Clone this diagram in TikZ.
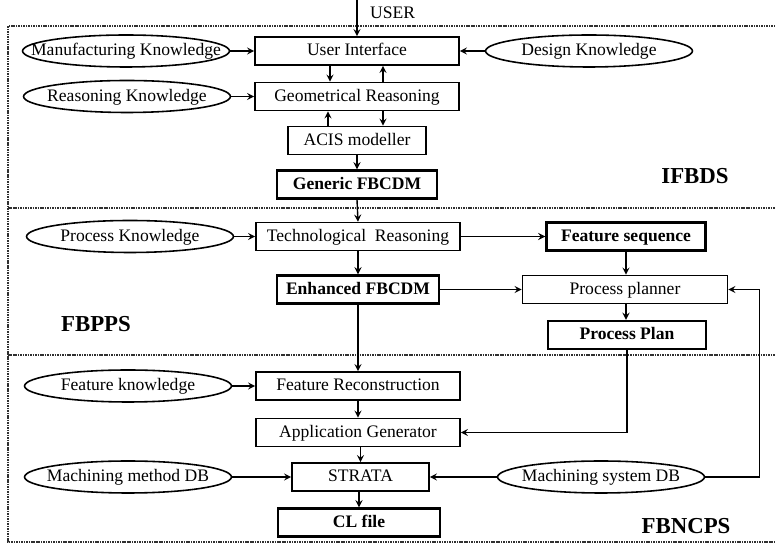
\documentclass[tikz,border=0pt]{standalone}
\usepackage{fontspec}
\setmainfont{Liberation Serif}
\usetikzlibrary{shapes.geometric}

\tikzset{
    box/.style={draw, line width=0.9pt, minimum height=0.56cm, inner sep=1pt,
        text height=1.55ex, text depth=0.35ex, font=\fontsize{10}{12}\selectfont},
    boldbox/.style={box, line width=1.4pt, font=\fontsize{10}{12}\selectfont\bfseries},
    know/.style={draw, ellipse, line width=0.9pt, minimum width=4.14cm, minimum height=0.64cm,
        inner xsep=-0.45cm, inner ysep=-0.1cm, text height=1.55ex, text depth=0.35ex,
        font=\fontsize{10}{12}\selectfont},
    flow/.style={-stealth, line width=0.8pt},
    part/.style={font=\fontsize{13}{15}\selectfont\bfseries},
}

\begin{document}
\begin{tikzpicture}[x=0.02cm, y=-0.02cm]
    \definecolor{frame_gray}{HTML}{303030}
    \useasboundingbox (0,0) rectangle (775,546);
    %\draw[help lines, step=50] (0,0) grid (775,546);

    % system frames
    \draw[frame_gray, line width=0.9pt, dash pattern=on 0.9pt off 0.5pt] (780,26) -- (8,26) -- (8,542) -- (780,542);
    \draw[frame_gray, line width=0.9pt, dash pattern=on 0.9pt off 0.5pt] (8,208) -- (780,208);
    \draw[frame_gray, line width=0.9pt, dash pattern=on 0.9pt off 0.5pt] (8,355) -- (780,355);

    \node[part] (ifbds) at (695,176) {IFBDS};
    \node[part] (fbpps) at (96,324) {FBPPS};
    \node[part] (fbncps) at (686,526) {FBNCPS};

    % design part
    \coordinate (user) at (357,0);
    \node[anchor=west, font=\fontsize{10}{12}\selectfont] (usertext) at (364,13) {USER};
    \node[box, minimum width=4.08cm] (ui) at (357,51) {User Interface};
    \node[box, minimum width=4.08cm] (geo) at (357,96.5) {Geometrical Reasoning};
    \node[box, minimum width=2.76cm] (acis) at (357,140.5) {ACIS modeller};
    \node[boldbox, minimum width=3.20cm] (generic) at (357,184.5) {Generic FBCDM};

    \node[know] (mfg) at (126,51) {Manufacturing Knowledge};
    \node[know] (design) at (589,51) {Design Knowledge};
    \node[know] (rsn) at (127,96.5) {Reasoning Knowledge};

    % planning part
    \node[box, minimum width=4.08cm] (tech) at (358,236.5) {Technological\ \ Reasoning};
    \node[boldbox, minimum width=3.18cm] (fseq) at (626,236.5) {Feature sequence};
    \node[boldbox, minimum width=3.24cm] (enh) at (358,289.5) {Enhanced FBCDM};
    \node[box, minimum width=4.10cm] (planner) at (625,289.5) {Process planner};
    \node[boldbox, minimum width=3.16cm] (plan) at (627,335) {Process Plan};

    \node[know] (proc) at (130,236.5) {Process Knowledge};

    % NC part
    \node[box, minimum width=4.08cm] (recon) at (358,386) {Feature Reconstruction};
    \node[box, minimum width=4.08cm] (appgen) at (358,432.5) {Application Generator};
    \node[box, minimum width=2.74cm] (strata) at (360.5,477) {STRATA};
    \node[boldbox, minimum width=3.24cm] (clfile) at (359,522.5) {CL file};

    \node[know] (feat) at (128,386) {Feature knowledge};
    \node[know] (mmeth) at (128,477) {Machining method DB};
    \node[know] (msys) at (601,477) {Machining system DB};

    % arrows
    \draw[flow] (user) -- (ui.north);
    \draw[flow] ([xshift=-0.54cm]ui.south) -- ([xshift=-0.54cm]geo.north);
    \draw[flow] ([xshift=0.52cm]geo.north) -- ([xshift=0.52cm]ui.south);
    \draw[flow] ([xshift=-0.58cm]acis.north) -- ([xshift=-0.58cm]geo.south);
    \draw[flow] ([xshift=0.52cm]geo.south) -- ([xshift=0.52cm]acis.north);
    \draw[flow] (acis) -- (generic);
    \draw[flow] (mfg.east) -- (mfg.east -| ui.west);
    \draw[flow] (design.west) -- (design.west -| ui.east);
    \draw[flow] (rsn.east) -- (rsn.east -| geo.west);

    \draw[flow] (generic.south) -- (tech.north);
    \draw[flow] (proc.east) -- (proc.east -| tech.west);
    \draw[flow] (tech.east) -- (tech.east -| fseq.west);
    \draw[flow] (tech) -- (enh);
    \draw[flow] (enh.east) -- (enh.east -| planner.west);
    \draw[flow] (fseq.south) -- (fseq.south |- planner.north);
    \draw[flow] (fseq.south |- planner.south) -- (fseq.south |- plan.north);
    \draw[flow] (plan.south) |- (appgen.east);

    \draw[flow] (enh.south) -- (recon.north);
    \draw[flow] (feat.east) -- (feat.east -| recon.west);
    \draw[flow] (recon) -- (appgen);
    \draw[flow] (appgen.south -| strata.north) -- (strata.north);
    \draw[flow] (mmeth.east) -- (mmeth.east -| strata.west);
    \draw[flow] (msys.west) -- (msys.west -| strata.east);
    \draw[flow] (msys.east) -| ([xshift=0.62cm]planner.east) -- (planner.east);
    \draw[flow] (strata.south -| clfile.north) -- (clfile.north);

\end{tikzpicture}
\end{document}
